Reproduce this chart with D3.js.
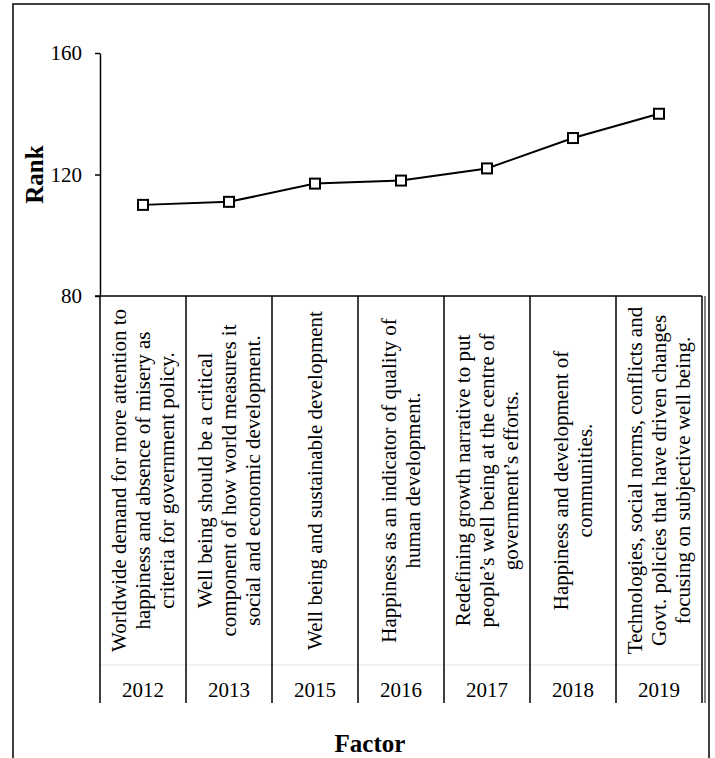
<!DOCTYPE html>
<html>
<head>
<meta charset="utf-8">
<script src="https://cdn.jsdelivr.net/npm/d3@7"></script>
<style>
  body { margin: 0; background: #fff; }
  svg text { font-family: "Liberation Serif", "Times New Roman", serif; fill: #000; }
</style>
</head>
<body>
<div id="plot"></div>
<script>
// data
var years = ["2012", "2013", "2015", "2016", "2017", "2018", "2019"]
var ranks = [110, 111, 117, 118, 122, 132, 140]
var yTicks = [80, 120, 160]
var factors = [
  ["Worldwide demand for more attention to", "happiness and absence of misery as", "criteria for government policy."],
  ["Well being should be a critical", "component of how world measures it", "social and economic development."],
  ["Well being and sustainable development"],
  ["Happiness as an indicator of quality of", "human development."],
  ["Redefining growth narrative to put", "people\u2019s well being at the centre of", "government\u2019s efforts."],
  ["Happiness and development of", "communities."],
  ["Technologies, social norms, conflicts and", "Govt. policies that have driven changes", "focusing on subjective well being."]
]
var yLabel = "Rank"
var xLabel = "Factor"

var svgWidth = 715
var svgHeight = 758

var svg = d3.select("#plot")
  .append("svg")
  .attr("width", svgWidth)
  .attr("height", svgHeight)

// outer frame
svg.append("rect")
  .attr("x", 13).attr("y", 4)
  .attr("width", 696).attr("height", 800)
  .attr("fill", "none")
  .attr("stroke", "#000")
  .attr("stroke-width", 1.5)

// scales
var xBand = d3.scaleBand()
  .domain(years)
  .range([100, 702])
  .padding(0)

var yScale = d3.scaleLinear()
  .domain([80, 160])
  .range([296, 53])

var tableTop = yScale(80)
var tableBottom = 703
var sepY = 665

// y axis
var leftAxis = d3.axisLeft(yScale)
  .tickValues(yTicks)
  .tickSize(5)
  .tickSizeOuter(0)
  .tickPadding(13)

var yAxisG = svg.append("g")
  .attr("transform", "translate(100,0)")
  .call(leftAxis)
yAxisG.select(".domain").attr("stroke", "#000").attr("stroke-width", 1.5)
yAxisG.selectAll(".tick line").attr("stroke", "#000").attr("stroke-width", 1.5)
yAxisG.selectAll(".tick text")
  .attr("font-family", "Liberation Serif, Times New Roman, serif")
  .attr("font-size", 21)
  .attr("fill", "#000")

// horizontal axis line along the table top
svg.append("line")
  .attr("x1", 95).attr("x2", xBand.range()[1])
  .attr("y1", tableTop).attr("y2", tableTop)
  .attr("stroke", "#000").attr("stroke-width", 1.5)

// faint row separator between factor text and years
svg.append("line")
  .attr("x1", 100).attr("x2", xBand.range()[1])
  .attr("y1", sepY).attr("y2", sepY)
  .attr("stroke", "#e4e4e4").attr("stroke-width", 1)

// column dividers
var bounds = years.map(d => xBand(d)).concat([xBand.range()[1]])
svg.selectAll(".divider")
  .data(bounds)
  .enter()
  .append("line")
  .attr("class", "divider")
  .attr("x1", d => d).attr("x2", d => d)
  .attr("y1", tableTop).attr("y2", tableBottom)
  .attr("stroke", "#000").attr("stroke-width", 1.5)

// second thin line at the table's right edge
svg.append("line")
  .attr("x1", xBand.range()[1] + 3).attr("x2", xBand.range()[1] + 3)
  .attr("y1", tableTop).attr("y2", tableBottom)
  .attr("stroke", "#000").attr("stroke-width", 1)

// factor text, rotated, centred in each column
var fontSize = 21
var lineH = 24
var textMidY = (tableTop + sepY) / 2
years.forEach((yr, i) => {
  var lines = factors[i]
  var g = svg.append("g")
    .attr("transform", `translate(${xBand(yr) + xBand.bandwidth() / 2}, ${textMidY}) rotate(-90)`)
  g.selectAll("text")
    .data(lines)
    .enter()
    .append("text")
    .attr("x", 0)
    .attr("y", (d, j) => (j - (lines.length - 1) / 2) * lineH)
    .attr("dy", "0.35em")
    .attr("text-anchor", "middle")
    .attr("font-size", fontSize)
    .text(d => d)
})

// year labels
svg.selectAll(".year")
  .data(years)
  .enter()
  .append("text")
  .attr("class", "year")
  .attr("x", d => xBand(d) + xBand.bandwidth() / 2)
  .attr("y", 697)
  .attr("text-anchor", "middle")
  .attr("font-size", fontSize)
  .text(d => d)

// the line and square markers
var pts = years.map((d, i) => ({ year: d, rank: ranks[i] }))
var line = d3.line()
  .x(d => xBand(d.year) + xBand.bandwidth() / 2)
  .y(d => yScale(d.rank))

svg.append("path")
  .datum(pts)
  .attr("d", line)
  .attr("fill", "none")
  .attr("stroke", "#000")
  .attr("stroke-width", 2)

var sq = 10
svg.selectAll(".marker")
  .data(pts)
  .enter()
  .append("rect")
  .attr("class", "marker")
  .attr("x", d => xBand(d.year) + xBand.bandwidth() / 2 - sq / 2)
  .attr("y", d => yScale(d.rank) - sq / 2)
  .attr("width", sq).attr("height", sq)
  .attr("fill", "#fff")
  .attr("stroke", "#000")
  .attr("stroke-width", 2)

// axis titles
svg.append("text")
  .attr("transform", `translate(43, ${yScale(120)}) rotate(-90)`)
  .attr("text-anchor", "middle")
  .attr("font-size", 25)
  .attr("font-weight", "bold")
  .text(yLabel)

svg.append("text")
  .attr("x", 370)
  .attr("y", 752)
  .attr("text-anchor", "middle")
  .attr("font-size", 25)
  .attr("font-weight", "bold")
  .text(xLabel)
</script>
</body>
</html>
